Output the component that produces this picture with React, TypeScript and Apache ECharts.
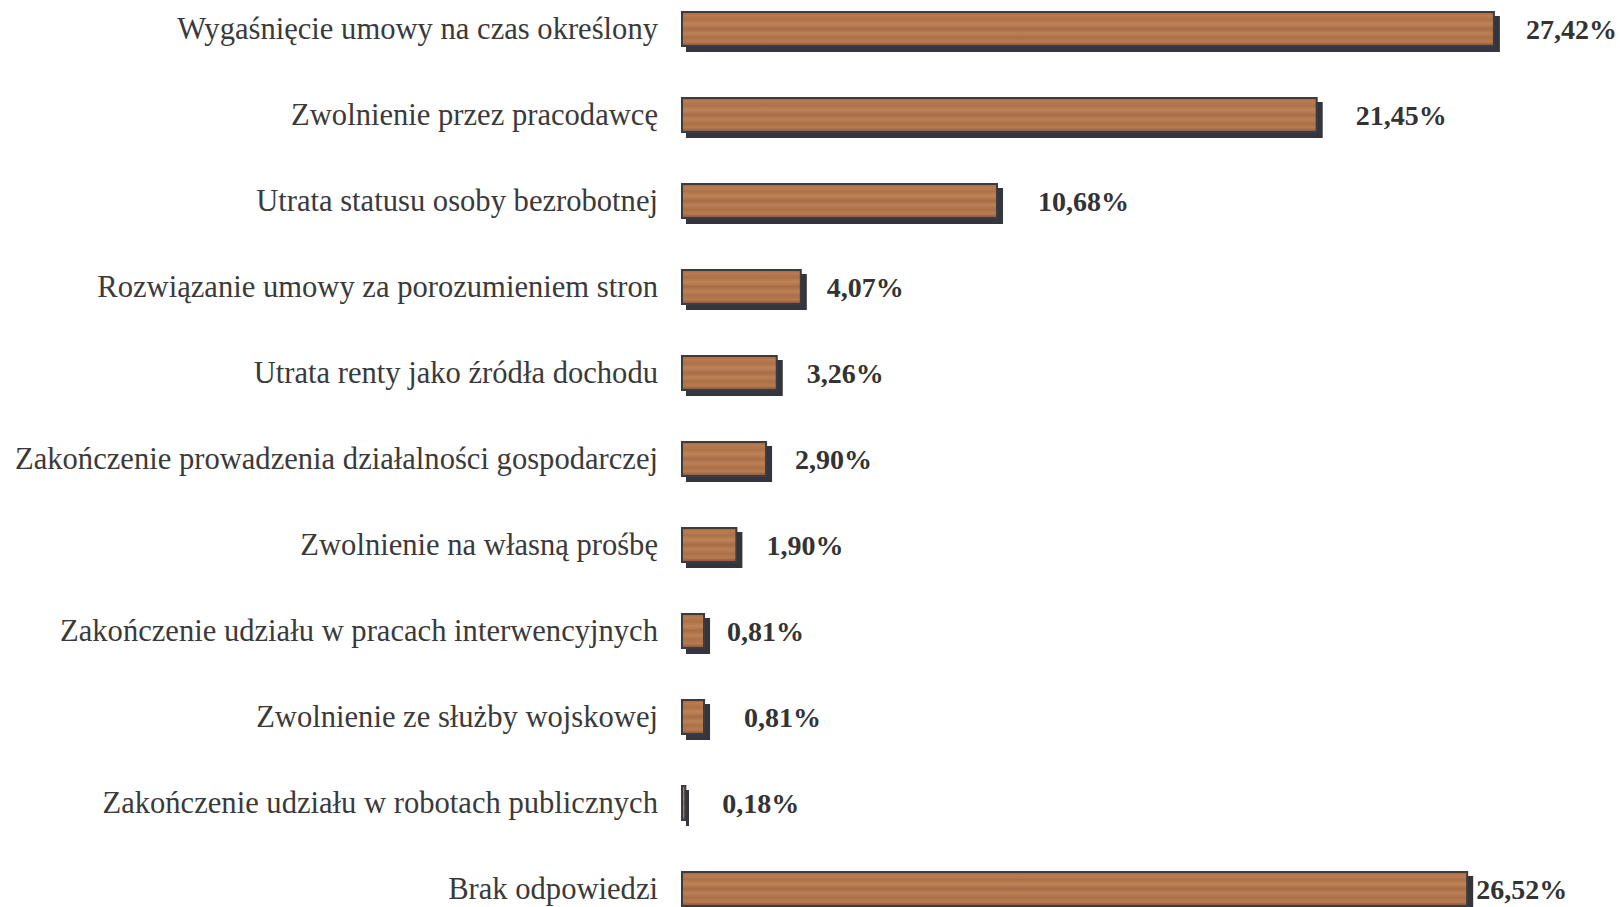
import React, { useEffect, useRef } from "react";
import * as echarts from "echarts";

const categories = [
  "Wygaśnięcie umowy na czas określony",
  "Zwolnienie przez pracodawcę",
  "Utrata statusu osoby bezrobotnej",
  "Rozwiązanie umowy za porozumieniem stron",
  "Utrata renty jako źródła dochodu",
  "Zakończenie prowadzenia działalności gospodarczej",
  "Zwolnienie na własną prośbę",
  "Zakończenie udziału w pracach interwencyjnych",
  "Zwolnienie ze służby wojskowej",
  "Zakończenie udziału w robotach publicznych",
  "Brak odpowiedzi",
];

const values = [27.42, 21.45, 10.68, 4.07, 3.26, 2.9, 1.9, 0.81, 0.81, 0.18, 26.52];

// label gap (px) between bar end and value label, as in the original layout
const labelGaps = [31, 38, 40, 25, 29, 28, 29, 22, 39, 36, 8];

const fmt = (v: number) => v.toFixed(2).replace(".", ",") + "%";

export default function App() {
  const ref = useRef<HTMLDivElement>(null);
  useEffect(() => {
    if (!ref.current) return;
    const chart = echarts.init(ref.current, null, { renderer: "svg" });
    const wood = new echarts.graphic.LinearGradient(0, 0, 0, 1, [
      { offset: 0, color: "#a2683f" },
      { offset: 0.1, color: "#b97c52" },
      { offset: 0.22, color: "#ad7148" },
      { offset: 0.35, color: "#bf8358" },
      { offset: 0.5, color: "#a86c44" },
      { offset: 0.62, color: "#bc8056" },
      { offset: 0.75, color: "#ac7047" },
      { offset: 0.87, color: "#b77b51" },
      { offset: 1, color: "#885333" },
    ]);
    chart.setOption({
      animation: false,
      backgroundColor: "#ffffff",
      grid: { left: 681, right: 50, top: 29, bottom: 18, containLabel: false },
      xAxis: {
        type: "value",
        min: 0,
        max: 29.95,
        show: false,
      },
      yAxis: {
        type: "category",
        data: categories,
        inverse: true,
        boundaryGap: false,
        axisLine: { show: false },
        axisTick: { show: false },
        splitLine: { show: false },
        axisLabel: {
          margin: 23,
          color: "#3a3a3a",
          fontFamily: "Liberation Serif",
          fontSize: 30.6,
        },
      },
      series: [
        {
          type: "bar",
          barWidth: 36,
          data: values.map((v, i) => ({
            value: v,
            label: { distance: labelGaps[i] },
          })),
          itemStyle: {
            color: wood,
            borderColor: "#3a3a42",
            borderWidth: 2,
            shadowColor: "#34343c",
            shadowBlur: 0,
            shadowOffsetX: 5,
            shadowOffsetY: 5,
          },
          label: {
            show: true,
            position: "right",
            formatter: (p: any) => fmt(p.value),
            color: "#333333",
            fontFamily: "Liberation Serif",
            fontWeight: "bold",
            fontSize: 28,
          },
        },
      ],
    });
    return () => chart.dispose();
  }, []);
  return (
    <div
      ref={ref}
      style={{ position: "fixed", left: 0, top: 0, width: 1620, height: 907 }}
    />
  );
}
